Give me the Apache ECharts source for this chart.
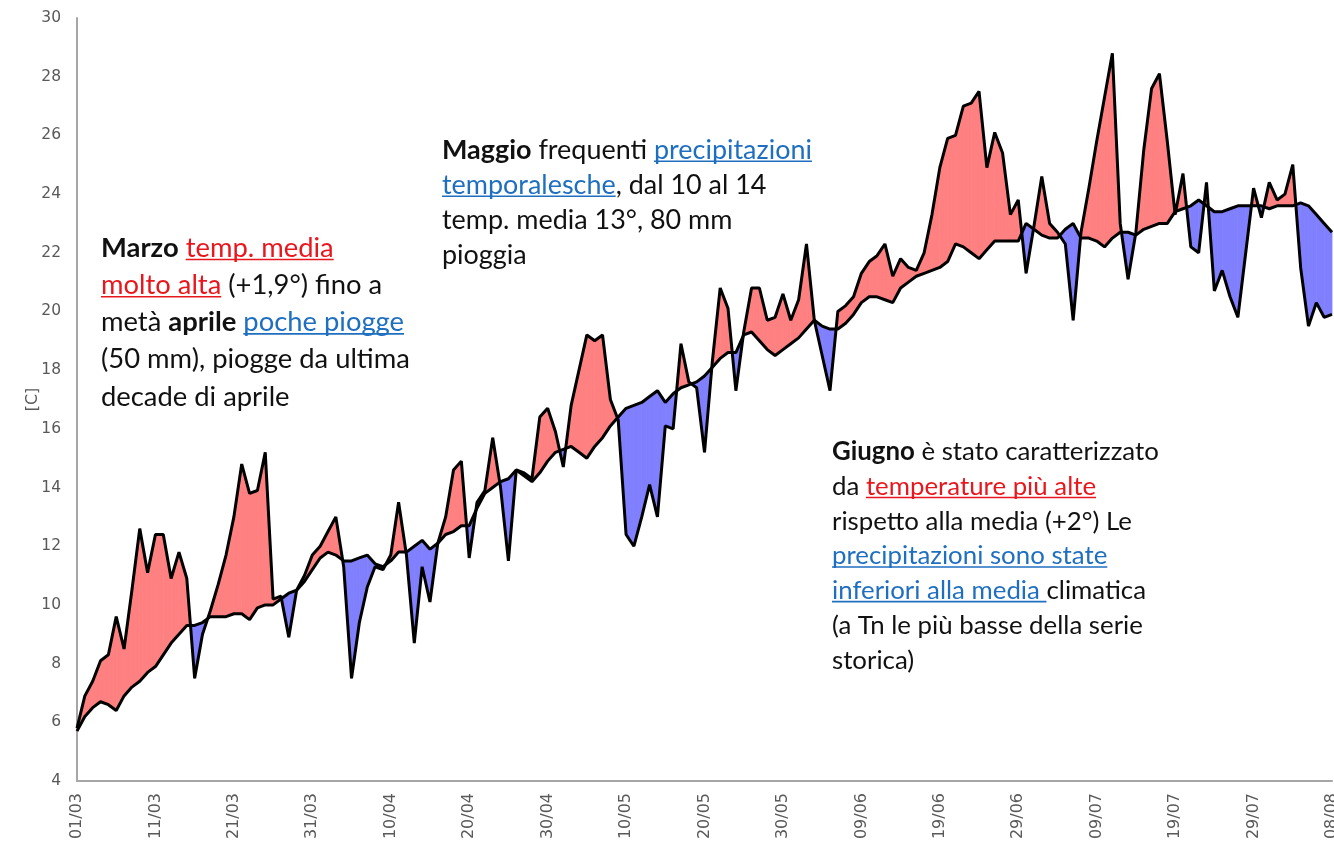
<!DOCTYPE html>
<html><head><meta charset="utf-8">
<script src="https://cdn.jsdelivr.net/npm/echarts@6/dist/echarts.min.js"></script>
<style>html,body{margin:0;padding:0;background:#fff}#c{width:1334px;height:857px}</style>
</head><body><div id="c"></div>
<script>
// ---- data ----
const firstDay = [2021, 3, 1]; // year, month, day (01/03)
const tempDaily = [5.8,6.9,7.4,8.1,8.3,9.6,8.5,10.5,12.6,11.1,
12.4,12.4,10.9,11.8,10.9,7.5,9.0,9.8,10.7,11.7,
13.0,14.8,13.8,13.9,15.2,10.2,10.3,8.9,10.5,11.0,
11.7,12.0,12.5,13.0,11.3,7.5,9.4,10.6,11.3,11.2,
11.7,13.5,11.7,8.7,11.3,10.1,12.1,13.0,14.6,14.9,
11.6,13.5,13.9,15.7,14.0,11.5,14.6,14.5,14.3,16.4,
16.7,15.9,14.7,16.8,18.0,19.2,19.0,19.2,17.0,16.3,
12.4,12.0,13.0,14.1,13.0,16.1,16.0,18.9,17.6,17.4,
15.2,18.3,20.8,20.1,17.3,19.3,20.8,20.8,19.7,19.8,
20.6,19.7,20.4,22.3,19.7,18.5,17.3,20.0,20.2,20.5,
21.3,21.7,21.9,22.3,21.2,21.8,21.5,21.4,22.0,23.3,
24.9,25.9,26.0,27.0,27.1,27.5,24.9,26.1,25.4,23.3,
23.8,21.3,22.9,24.6,23.0,22.7,22.3,19.7,22.7,24.2,
25.8,27.3,28.8,23.0,21.1,22.7,25.5,27.6,28.1,25.8,
23.3,24.7,22.2,22.0,24.4,20.7,21.4,20.5,19.8,22.0,
24.2,23.2,24.4,23.8,24.0,25.0,21.5,19.5,20.3,19.8,
19.9];
const climateMean = [5.7,6.2,6.5,6.7,6.6,6.4,6.9,7.2,7.4,7.7,
7.9,8.3,8.7,9.0,9.3,9.3,9.4,9.6,9.6,9.6,
9.7,9.7,9.5,9.9,10.0,10.0,10.2,10.4,10.5,10.8,
11.2,11.6,11.8,11.7,11.5,11.5,11.6,11.7,11.4,11.3,
11.5,11.8,11.8,12.0,12.2,11.9,12.1,12.4,12.5,12.7,
12.7,13.3,13.8,14.0,14.2,14.3,14.6,14.4,14.2,14.5,
14.9,15.2,15.3,15.4,15.2,15.0,15.4,15.7,16.1,16.4,
16.7,16.8,16.9,17.1,17.3,16.9,17.2,17.4,17.5,17.6,
17.8,18.1,18.4,18.6,18.6,19.2,19.3,19.0,18.7,18.5,
18.7,18.9,19.1,19.4,19.7,19.5,19.4,19.4,19.6,19.9,
20.3,20.5,20.5,20.4,20.3,20.8,21.0,21.2,21.3,21.4,
21.5,21.7,22.3,22.2,22.0,21.8,22.1,22.4,22.4,22.4,
22.4,23.0,22.8,22.6,22.5,22.5,22.8,23.0,22.5,22.5,
22.4,22.2,22.5,22.7,22.7,22.6,22.8,22.9,23.0,23.0,
23.4,23.5,23.6,23.8,23.6,23.4,23.4,23.5,23.6,23.6,
23.6,23.6,23.5,23.6,23.6,23.6,23.7,23.6,23.3,23.0,
22.7];
const yTicks = {min: 4, max: 30, step: 2};
const axisTitle = '[C]';

// annotation texts: runs of [text, style]  n=normal b=bold r=red underline u=blue underline
const noteMarzo = [
  [['Marzo','b'],[' ','n'],['temp. media','r']],
  [['molto alta','r'],[' (+1,9°) fino a','n']],
  [['metà ','n'],['aprile','b'],[' ','n'],['poche piogge','u']],
  [['(50 mm), piogge da ultima','n']],
  [['decade di aprile','n']]
];
const noteMaggio = [
  [['Maggio','b'],[' frequenti ','n'],['precipitazioni','u']],
  [['temporalesche','u'],[', dal 10 al 14','n']],
  [['temp. media 13°, 80 mm','n']],
  [['pioggia','n']]
];
const noteGiugno = [
  [['Giugno','b'],[' è stato caratterizzato','n']],
  [['da ','n'],['temperature più alte','r']],
  [['rispetto alla media (+2°) Le','n']],
  [['precipitazioni sono state','u']],
  [['inferiori alla media ','u'],['climatica','n']],
  [['(a Tn le più basse della serie','n']],
  [['storica)','n']]
];

// ---- build ----
const categories = [];
for (let i = 0; i < tempDaily.length; i++) {
  const dt = new Date(firstDay[0], firstDay[1]-1, firstDay[2] + i);
  categories.push(String(dt.getDate()).padStart(2,'0') + '/' + String(dt.getMonth()+1).padStart(2,'0'));
}
const RED = '#FF8080', BLUE = '#8080FF';
const TXT = {n:'#111111', b:'#111111', r:'#E8171E', u:'#1F6FC0'};
const FONT = 'Lato';
const cv = document.createElement('canvas').getContext('2d');
function meas(t, w, s){ cv.font = w + ' ' + s + 'px ' + FONT; return cv.measureText(t).width; }
function lineW(line, s){ return line.reduce((a,r)=>a+meas(r[0], r[1]==='b'?'bold':'normal', s),0); }

const graphics = [];
function addNote(lines, x0, y0, dy, refIdx, refWidth){
  const size = 24 * refWidth / lineW(lines[refIdx], 24);
  lines.forEach((line, li) => {
    let x = x0; const y = y0 + li*dy;
    line.forEach(r => {
      const w = r[1]==='b' ? 'bold' : 'normal';
      const wd = meas(r[0], w, size);
      graphics.push({type:'text', x:x, y:y, z:100, style:{text:r[0], fill:TXT[r[1]], fontSize:size, fontWeight:w, fontFamily:FONT, textAlign:'left', textVerticalAlign:'middle', verticalAlign:'middle'}});
      if (r[1]==='r' || r[1]==='u') {
        graphics.push({type:'line', z:100, shape:{x1:x, y1:y+size*0.42, x2:x+wd, y2:y+size*0.42}, style:{stroke:TXT[r[1]], lineWidth:1.6}});
      }
      x += wd;
    });
  });
}
addNote(noteMarzo, 101, 248, 37.2, 3, 309);
addNote(noteMaggio, 442, 150, 35, 0, 370);
addNote(noteGiugno, 832, 452, 34.7, 0, 327);

const chart = echarts.init(document.getElementById('c'));
chart.setOption({
  animation: false,
  backgroundColor: '#fff',
  grid: {left: 77, right: 2, top: 18, bottom: 76, outerBoundsMode: 'none', containLabel: false},
  xAxis: {
    type: 'category', data: categories, boundaryGap: false,
    axisLine: {lineStyle: {color: '#A6A6A6', width: 2}},
    axisTick: {show: false},
    axisLabel: {interval: 9, rotate: 90, margin: 12, color: '#595959', fontSize: 16, fontFamily: 'DejaVu Sans', hideOverlap: false},
    splitLine: {show: false}
  },
  yAxis: {
    type: 'value', min: yTicks.min, max: yTicks.max, interval: yTicks.step,
    name: axisTitle, nameLocation: 'middle', nameRotate: 90, nameGap: 36, nameMoveOverlap: false,
    nameTextStyle: {color: '#595959', fontSize: 16, fontFamily: 'DejaVu Sans'},
    axisLine: {show: true, lineStyle: {color: '#A6A6A6', width: 2}},
    axisTick: {show: false},
    axisLabel: {color: '#595959', fontSize: 15.5, fontFamily: 'DejaVu Sans', margin: 16},
    splitLine: {show: false}
  },
  graphic: graphics,
  series: [
    {
      type: 'custom', z: 1, clip: false,
      data: tempDaily.map((v,i)=>[i, v]),
      encode: {x: 0, y: 1},
      renderItem: function(params, api){
        const i = params.dataIndex;
        if (i >= tempDaily.length - 1) return {type:'group', children:[]};
        const t0 = tempDaily[i], t1 = tempDaily[i+1], m0 = climateMean[i], m1 = climateMean[i+1];
        const a = api.coord([i, t0]), b = api.coord([i+1, t1]);
        const c = api.coord([i+1, m1]), d = api.coord([i, m0]);
        const d0 = t0 - m0, d1 = t1 - m1;
        const poly = (pts, col) => ({type:'polygon', shape:{points:pts}, style:{fill:col, stroke:col, lineWidth:0.8}});
        const ch = [];
        if (d0*d1 >= 0) {
          ch.push(poly([a,b,c,d], (d0+d1) >= 0 ? RED : BLUE));
        } else {
          const t = d0/(d0-d1);
          const p = [a[0]+t*(b[0]-a[0]), a[1]+t*(b[1]-a[1])];
          ch.push(poly([a,p,d], d0 > 0 ? RED : BLUE));
          ch.push(poly([p,b,c], d1 > 0 ? RED : BLUE));
        }
        return {type:'group', children: ch};
      }
    },
    {type:'line', name:'Climatologia', data: climateMean, symbol:'none', z:3,
     lineStyle:{color:'#000', width:3}},
    {type:'line', name:'Temperatura', data: tempDaily, symbol:'none', z:4,
     lineStyle:{color:'#000', width:3}}
  ]
});
</script></body></html>
